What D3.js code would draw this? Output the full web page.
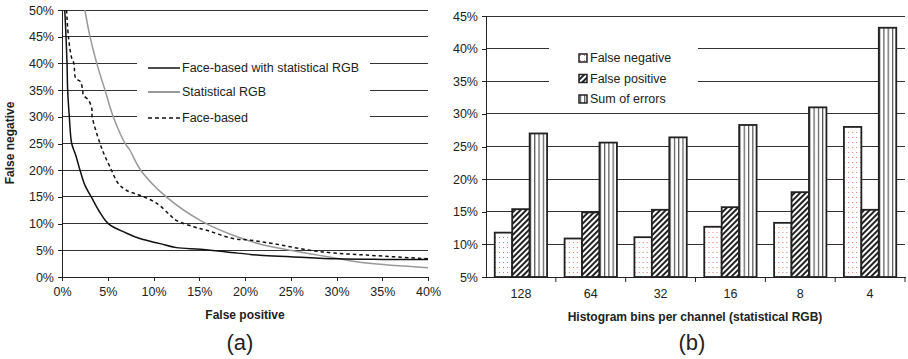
<!DOCTYPE html>
<html lang="en">
<head>
<meta charset="utf-8">
<title>Error rates</title>
<script src="https://cdn.jsdelivr.net/npm/d3@7"></script>
<style>
  body { margin: 0; background: #fff; }
  svg { font-family: "Liberation Sans", Arial, sans-serif; }
  .tick text { font-size: 12.5px; fill: #222; }
  .tick line, .domain, .grid { shape-rendering: crispEdges; }
  .title { font-size: 12px; font-weight: bold; fill: #222; }
  .lbl { font-size: 12.5px; fill: #222; }
</style>
</head>
<body>
<script>
// ---- data (a): ROC-like curves, [false positive %, false negative %]
var faceStat = [[0.3,50],[0.44,45],[0.55,40],[0.62,35],[0.8,30],[1.06,25],[1.5,22.8],[1.97,20],[2.5,17.2],[3.2,15],[4,12.5],[5.06,10],[7.07,8.2],[8.5,7.2],[10.7,6.25],[12.5,5.5],[15.1,5.2],[18,4.7],[21.6,4.06],[25,3.8],[30,3.4],[35,3.3],[40,3.3]];
var statRGB = [[2.5,50],[3.06,45],[3.8,40],[4.7,35],[5.6,30],[6.9,25],[7.4,23.8],[8.6,20],[11.4,15],[15.1,10.6],[18.4,8.0],[21.8,6.1],[26,4.7],[29.7,3.6],[33.3,2.6],[40,1.75]];
var faceBased = [[0.5,50],[0.7,45],[1.06,41],[1.3,40],[1.5,37.2],[2.0,36.6],[2.26,35],[2.33,34.1],[2.9,33.1],[3.25,31.6],[3.3,30],[4.15,25],[4.6,23],[5.25,20.6],[6.15,17.5],[7.07,16.2],[8.5,15.3],[10.35,13.8],[11.8,11.6],[12.5,10.6],[14.4,9.4],[15.8,8.75],[18.7,7.2],[20.6,6.9],[23.1,6.25],[27.1,5],[29.7,4.5],[33.3,4.1],[40,3.4]];
var xTicksA = [0,5,10,15,20,25,30,35,40];
var yTicksA = [0,5,10,15,20,25,30,35,40,45,50];

// ---- data (b): bars per histogram bin count
var bins = ["128","64","32","16","8","4"];
var falseNeg = [11.8, 10.9, 11.1, 12.7, 13.3, 28.0];
var falsePos = [15.4, 14.9, 15.3, 15.7, 18.0, 15.3];
var sumErr   = [27.0, 25.6, 26.4, 28.3, 31.0, 43.2];
var seriesB = ["False negative", "False positive", "Sum of errors"];
var yTicksB = [5,10,15,20,25,30,35,40,45];

var svg = d3.select("body").append("svg")
  .attr("width", 908).attr("height", 359);

var defs = svg.append("defs");
var pDots = defs.append("pattern").attr("id", "dots")
  .attr("patternUnits", "userSpaceOnUse").attr("width", 4).attr("height", 5);
pDots.append("rect").attr("width", 4).attr("height", 5).attr("fill", "#fff");
pDots.append("rect").attr("x", 1).attr("y", 2).attr("width", 1).attr("height", 1).attr("fill", "#d77");
var pDiag = defs.append("pattern").attr("id", "diag")
  .attr("patternUnits", "userSpaceOnUse").attr("width", 4).attr("height", 4)
  .attr("patternTransform", "rotate(45)");
pDiag.append("rect").attr("width", 4).attr("height", 4).attr("fill", "#fff");
pDiag.append("rect").attr("width", 2).attr("height", 4).attr("fill", "#222");
var pVert = defs.append("pattern").attr("id", "vert")
  .attr("patternUnits", "userSpaceOnUse").attr("width", 4.3).attr("height", 4);
pVert.append("rect").attr("width", 4.3).attr("height", 4).attr("fill", "#fff");
pVert.append("rect").attr("x", 1).attr("width", 1).attr("height", 4).attr("fill", "#333");
var fills = ["url(#dots)", "url(#diag)", "url(#vert)"];

// ================= chart (a) =================
var xA = d3.scaleLinear().domain([0, 40]).range([62, 428]);
var yA = d3.scaleLinear().domain([0, 50]).range([277, 10]);
var gA = svg.append("g");

gA.selectAll("line.grid").data(yTicksA.slice(1)).enter().append("line")
  .attr("class", "grid")
  .attr("x1", xA(0)).attr("x2", xA(40))
  .attr("y1", function (d) { return yA(d); })
  .attr("y2", function (d) { return yA(d); })
  .attr("stroke", "#333").attr("stroke-width", 1);

// legend box knocks out gridlines
gA.append("rect").attr("x", 137).attr("y", 46).attr("width", 233).attr("height", 86).attr("fill", "#fff");

var line = d3.line().x(function (d) { return xA(d[0]); }).y(function (d) { return yA(d[1]); })
  .curve(d3.curveCatmullRom.alpha(0.5));

gA.append("path").datum(statRGB).attr("d", line)
  .attr("fill", "none").attr("stroke", "#999").attr("stroke-width", 1.5);
gA.append("path").datum(faceBased).attr("d", line)
  .attr("fill", "none").attr("stroke", "#111").attr("stroke-width", 1.5).attr("stroke-dasharray", "3.5,3");
gA.append("path").datum(faceStat).attr("d", line)
  .attr("fill", "none").attr("stroke", "#111").attr("stroke-width", 1.5);

gA.append("g").attr("transform", "translate(" + xA(0) + ",0)")
  .call(d3.axisLeft(yA).tickValues(yTicksA).tickSize(4).tickPadding(4)
    .tickFormat(function (d) { return d + "%"; }))
  .call(function (g) { g.selectAll("path, line").attr("stroke", "#222"); });
gA.append("g").attr("transform", "translate(0," + yA(0) + ")")
  .call(d3.axisBottom(xA).tickValues(xTicksA).tickSize(4).tickPadding(6)
    .tickFormat(function (d) { return d + "%"; }))
  .call(function (g) { g.selectAll("path, line").attr("stroke", "#222"); });

gA.append("text").attr("class", "title").attr("x", 245).attr("y", 319)
  .attr("text-anchor", "middle").text("False positive");
gA.append("text").attr("class", "title")
  .attr("transform", "translate(14,143) rotate(-90)")
  .attr("text-anchor", "middle").text("False negative");
gA.append("text").attr("x", 240).attr("y", 350).attr("text-anchor", "middle")
  .attr("font-size", 22).attr("fill", "#222").text("(a)");

var legA = [
  { name: "Face-based with statistical RGB", stroke: "#111", dash: null },
  { name: "Statistical RGB", stroke: "#999", dash: null },
  { name: "Face-based", stroke: "#111", dash: "4,3" }
];
var legAg = gA.selectAll("g.leg").data(legA).enter().append("g")
  .attr("transform", function (d, i) { return "translate(148," + [68, 92, 118][i] + ")"; });
legAg.append("line").attr("x1", 0).attr("x2", 32)
  .attr("stroke", function (d) { return d.stroke; })
  .attr("stroke-width", function (d, i) { return i === 1 ? 2 : 1.5; })
  .attr("stroke-dasharray", function (d) { return d.dash; });
legAg.append("text").attr("class", "lbl").attr("x", 34).attr("dy", "0.35em")
  .text(function (d) { return d.name; });

// ================= chart (b) =================
var xB = d3.scaleBand().domain(bins).range([486, 905]);
var xInner = d3.scaleBand().domain(seriesB).range([8.75, xB.bandwidth() - 8.75]);
var yB = d3.scaleLinear().domain([5, 45]).range([277, 16]);
var gB = svg.append("g");

gB.selectAll("line.grid").data(yTicksB.slice(1)).enter().append("line")
  .attr("class", "grid")
  .attr("x1", 486).attr("x2", 905)
  .attr("y1", function (d) { return yB(d); })
  .attr("y2", function (d) { return yB(d); })
  .attr("stroke", "#333").attr("stroke-width", 1);

gB.append("rect").attr("x", 549).attr("y", 40).attr("width", 149).attr("height", 68).attr("fill", "#fff");

var rows = bins.map(function (b, i) { return { bin: b, vals: [falseNeg[i], falsePos[i], sumErr[i]] }; });
var groups = gB.selectAll("g.grp").data(rows).enter().append("g")
  .attr("transform", function (d) { return "translate(" + xB(d.bin) + ",0)"; });
groups.selectAll("rect").data(function (d) { return d.vals; }).enter().append("rect")
  .attr("x", function (d, i) { return xInner(seriesB[i]); })
  .attr("width", xInner.bandwidth())
  .attr("y", function (d) { return yB(d); })
  .attr("height", function (d) { return yB(5) - yB(d); })
  .attr("fill", function (d, i) { return fills[i]; })
  .attr("stroke", "#222").attr("stroke-width", 1.8);

gB.append("g").attr("transform", "translate(486,0)")
  .call(d3.axisLeft(yB).tickValues(yTicksB).tickSize(4).tickPadding(4)
    .tickFormat(function (d) { return d + "%"; }))
  .call(function (g) { g.selectAll("path, line").attr("stroke", "#222"); });
var axB = gB.append("g").attr("transform", "translate(0," + yB(5) + ")")
  .call(d3.axisBottom(xB).tickSize(0).tickPadding(12))
  .call(function (g) { g.selectAll("path").attr("stroke", "#222"); });
axB.selectAll("line.bound").data(bins).enter().append("line")
  .attr("class", "bound")
  .attr("x1", function (d) { return xB(d) + xB.bandwidth(); })
  .attr("x2", function (d) { return xB(d) + xB.bandwidth(); })
  .attr("y1", 0).attr("y2", 5).attr("stroke", "#222");

gB.append("text").attr("class", "title").attr("x", 695).attr("y", 321)
  .attr("text-anchor", "middle").text("Histogram bins per channel (statistical RGB)");
gB.append("text").attr("x", 692).attr("y", 350).attr("text-anchor", "middle")
  .attr("font-size", 22).attr("fill", "#222").text("(b)");

var legBg = gB.selectAll("g.legb").data(seriesB).enter().append("g")
  .attr("transform", function (d, i) { return "translate(579," + (58 + i * 20.5) + ")"; });
legBg.append("rect").attr("x", 0).attr("y", -4).attr("width", 8).attr("height", 8)
  .attr("fill", function (d, i) { return fills[i]; })
  .attr("stroke", "#222").attr("stroke-width", 1.5);
legBg.append("text").attr("class", "lbl").attr("x", 11).attr("dy", "0.35em")
  .text(function (d) { return d; });
</script>
</body>
</html>
